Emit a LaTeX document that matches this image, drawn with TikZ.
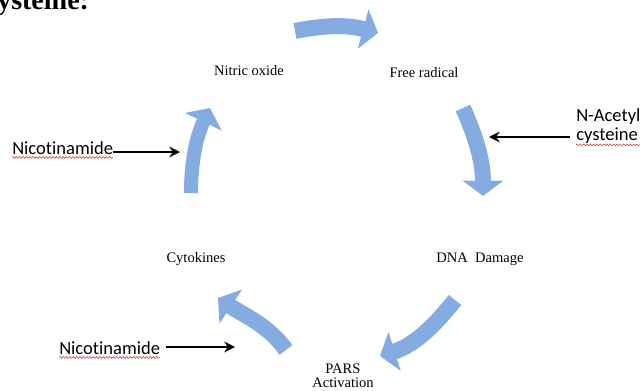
\documentclass[tikz,border=0pt]{standalone}
\usepackage{fontspec}
\setmainfont{Liberation Serif}
\newfontfamily\calib[Ligatures=NoCommon]{Carlito}
\usetikzlibrary{arrows.meta,decorations.pathmorphing}
\definecolor{blockblue}{RGB}{132,172,224}
\definecolor{squigred}{RGB}{200,60,60}
\begin{document}
\begin{tikzpicture}[x=0.75pt,y=-0.75pt,
 lbl/.style={font=\fontsize{10.9}{10.5}\selectfont, inner sep=0pt},
 drug/.style={font=\calib\fontsize{13.9}{14.25}\selectfont, inner sep=0pt},
 cyc/.style={line width=12pt, draw=blockblue, -{Triangle[length=11.5pt,width=30pt]}},
 inh/.style={line width=1.8pt, -{Stealth[length=8pt,width=8pt]}},
 squig/.style={draw=squigred, line width=0.4pt, decorate, decoration={snake, amplitude=0.7pt, segment length=2.5pt}}
]
\useasboundingbox (0,0) rectangle (640,390);

% title fragment
\node[font=\bfseries\fontsize{21}{21}\selectfont, anchor=base west, inner sep=0pt] (ttl) at (-3,9) {ysteine:};

% cycle labels
\node[lbl] (no) at (249,71) {Nitric oxide};
\node[lbl] (fr) at (424,73) {Free radical};
\node[lbl] (dna) at (480,259) {DNA\ \ Damage};
\node[lbl] (cyto) at (196,259) {Cytokines};
\node[lbl, align=center] (pars) at (343,376) {PARS\\Activation};

% drug labels
\node[drug, anchor=west] (nic1) at (12,148) {Nicotinamide};
\node[drug, anchor=west] (nic2) at (59,348) {Nicotinamide};
\node[drug, anchor=west, align=left] (nac) at (576,126.5) {N-Acetyl\\cysteine};

% spell-check underlines
\draw[squig] ([yshift=-2pt]nic1.south west) -- ([yshift=-2pt]nic1.south east);
\draw[squig] ([yshift=-2pt]nic2.south west) -- ([yshift=-2pt]nic2.south east);
\draw[squig] ([yshift=-0.5pt]nac.south west) -- ([yshift=-0.5pt]nac.south east);

% inhibitor arrows
\coordinate (t1) at (180,152);
\coordinate (s2) at (570,137);
\coordinate (t2) at (489,137);
\coordinate (t3) at (235,347);
\draw[inh] (nic1.east |- t1) -- (t1);
\draw[inh] (s2) -- (t2);
\draw[inh] ([xshift=4pt]nic2.east |- t3) -- (t3);

% cycle block arrows
\coordinate (a1s) at (295,31);  \coordinate (a1e) at (378,33);
\coordinate (a2s) at (463,108); \coordinate (a2e) at (483,196);
\coordinate (a3s) at (455,300); \coordinate (a3e) at (380,356);
\coordinate (a4s) at (286,350); \coordinate (a4e) at (218,298);
\coordinate (a5s) at (191,193); \coordinate (a5e) at (210,108);
\draw[cyc] (a1s) .. controls (320,26) and (345,24) .. (a1e);
\draw[cyc] (a2s) .. controls (475,135) and (483,160) .. (a2e);
\draw[cyc] (a3s) .. controls (435,325) and (415,345) .. (a3e);
\draw[cyc] (a4s) .. controls (268,325) and (245,316) .. (a4e);
\draw[cyc, line width=10.5pt] (a5s) .. controls (191,160) and (197,135) .. (a5e);
\end{tikzpicture}
\end{document}
